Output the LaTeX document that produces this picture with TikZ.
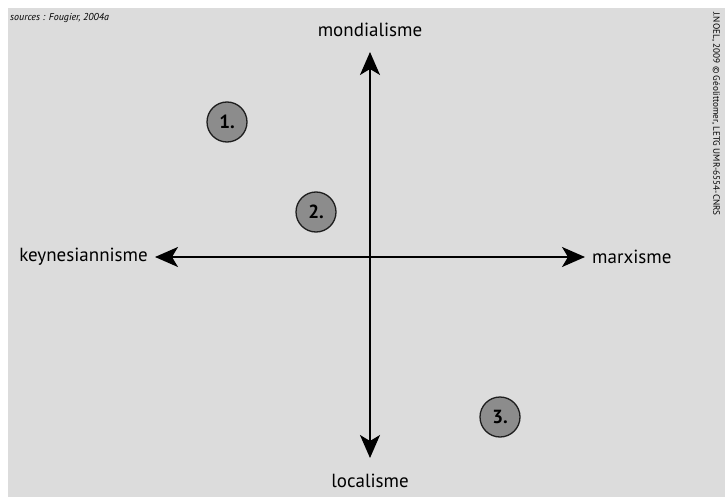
\documentclass[tikz,border=0pt]{standalone}
\usepackage{xcolor}
\usepackage{fontspec}
\setmainfont{PT Sans}
\usepackage{tikz}
\usetikzlibrary{
    positioning,
    arrows.meta,
    backgrounds
}
\definecolor{MapGray}{HTML}{DCDCDC}
\definecolor{MarkerGray}{HTML}{8C8C8C}
\definecolor{MarkerEdge}{HTML}{1E1E1E}
\tikzset{
    pole/.style={
        font=\fontsize{19}{21}\selectfont,
        inner sep=0pt,
    },
    axis/.style={
        line width=1.8pt,
        {Stealth[length=23pt,width=20pt,inset=6pt]}-{Stealth[length=23pt,width=20pt,inset=6pt]},
    },
    marker/.style={
        circle,
        draw=MarkerEdge,
        line width=1.3pt,
        fill=MarkerGray,
        minimum size=40pt,
        inner sep=0pt,
        font=\fontsize{19}{21}\selectfont\bfseries,
    },
    credit/.style={
        font=\fontsize{10}{12}\selectfont\itshape,
        inner sep=0pt,
    },
}
\begin{document}
\begin{tikzpicture}[x=1pt,y=-1pt]

    \fill[white] (0,0) rectangle (725,497);
    \fill[MapGray] (8,8) rectangle (725,497);

    \coordinate (top) at (370,52);
    \coordinate (bottom) at (370,458);
    \coordinate (west) at (155,257);
    \coordinate (east) at (585,257);

    \node[pole,above=15pt of top] (mondialisme) {mondialisme};
    \node[pole,below=16pt of bottom] (localisme) {localisme};
    \node[pole,left=7pt of west] (keynes) {keynesiannisme};
    \node[pole,right=7pt of east] (marxisme) {marxisme};

    \draw[axis] (bottom) -- (top);
    \draw[axis] (west) -- (east);

    \node[marker] (one) at (227,122) {1.};
    \node[marker] (two) at (316,212) {2.};
    \node[marker] (three) at (500,417) {3.};

    \node[credit,anchor=west] (sources) at (10,18) {sources : Fougier, 2004a};
    \node[credit,rotate=-90,anchor=west,font=\fontsize{9.2}{11}\selectfont] (copyright) at (716,12) {J.NOEL, 2009 © Géolittomer, LETG UMR-6554-CNRS};

\end{tikzpicture}
\end{document}
